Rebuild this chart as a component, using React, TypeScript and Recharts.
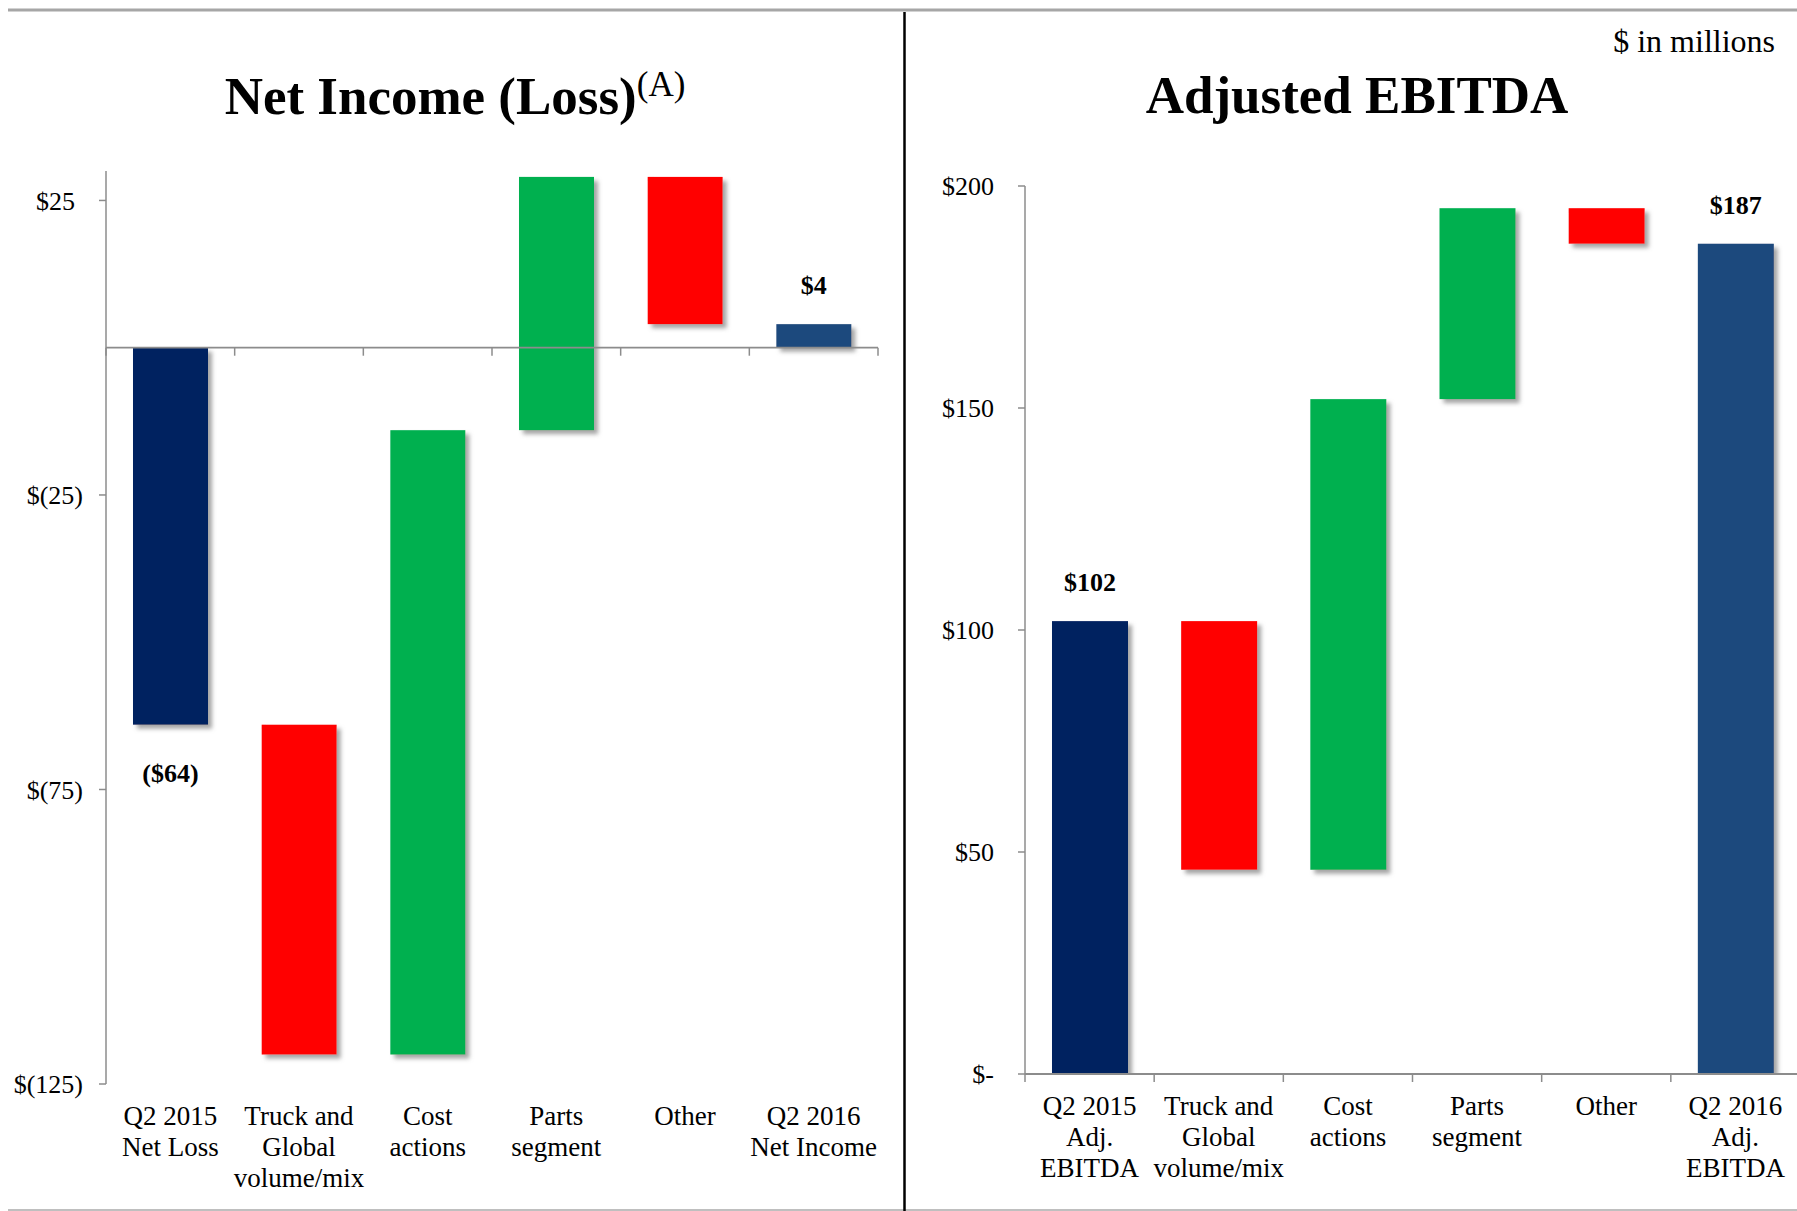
import React from 'react';
import { BarChart, Bar, XAxis, YAxis, ReferenceLine, LabelList, Cell } from 'recharts';

// ---------- data ----------
const netCategories = ['Q2 2015\nNet Loss', 'Truck and\nGlobal\nvolume/mix', 'Cost\nactions', 'Parts\nsegment', 'Other', 'Q2 2016\nNet Income'];
const netSteps = [-64, -56, 106, 43, -25, 4];
const netIsTotal = [true, false, false, false, false, true];
const netTicks = [25, -25, -75, -125];
const netDomain = [-125, 30];

const ebitdaCategories = ['Q2 2015\nAdj.\nEBITDA', 'Truck and\nGlobal\nvolume/mix', 'Cost\nactions', 'Parts\nsegment', 'Other', 'Q2 2016\nAdj.\nEBITDA'];
const ebitdaSteps = [102, -56, 106, 43, -8, 187];
const ebitdaIsTotal = [true, false, false, false, false, true];
const ebitdaTicks = [0, 50, 100, 150, 200];
const ebitdaDomain = [0, 200];

// ---------- styles ----------
const FONT = '"Liberation Serif", "Times New Roman", Times, serif';
const AXIS_GREY = '#8C8C8C';
const FIRST_TOTAL = '#002060';
const LAST_TOTAL = '#1F497D';
const UP = '#00B050';
const DOWN = '#FF0000';

type Row = { name: string; range: [number, number]; labelValue: number | null; delta: number; isTotal: boolean };

function buildWaterfall(cats: string[], steps: number[], totals: boolean[]): Row[] {
  let running = 0;
  return cats.map((name, i) => {
    const v = steps[i];
    if (totals[i]) {
      running = v;
      return { name, range: [Math.min(0, v), Math.max(0, v)], labelValue: v, delta: v, isTotal: true };
    }
    const start = running;
    const end = running + v;
    running = end;
    return { name, range: [Math.min(start, end), Math.max(start, end)], labelValue: null, delta: v, isTotal: false };
  });
}

const netRows = buildWaterfall(netCategories, netSteps, netIsTotal);
const ebitdaRows = buildWaterfall(ebitdaCategories, ebitdaSteps, ebitdaIsTotal);

function colorFor(rows: Row[], i: number) {
  const r = rows[i];
  if (r.isTotal) return i === 0 ? FIRST_TOTAL : LAST_TOTAL;
  return r.delta >= 0 ? UP : DOWN;
}

const BarShape = (props: any) => {
  const { x, y, width, height, fill } = props;
  if (x == null || y == null) return null;
  const top = Math.min(y, y + height);
  const h = Math.abs(height);
  return <rect x={x} y={top} width={width} height={h} fill={fill} filter="url(#barShadow)" />;
};

const makeAxisShape = (count: number) => (props: any) => {
  const { x1, y1, x2, y2 } = props;
  const marks = [];
  for (let i = 0; i <= count; i++) {
    const mx = x1 + ((x2 - x1) * i) / count;
    marks.push(<line key={i} x1={mx} x2={mx} y1={y1} y2={y1 + 8} stroke={AXIS_GREY} strokeWidth={1.5} />);
  }
  return (
    <g>
      <line x1={x1} y1={y1} x2={x2} y2={y2} stroke={AXIS_GREY} strokeWidth={1.8} />
      {marks}
    </g>
  );
};

const fmtLabel = (v: number) => (v < 0 ? `($${-v})` : `$${v}`);

const renderValueLabel = (props: any) => {
  const { value } = props;
  if (value === null || value === undefined || value === '') return null;
  const vb = props.viewBox && props.viewBox.width != null ? props.viewBox : props;
  const { x, y, width, height } = vb;
  const top = Math.min(y, y + height);
  const bottom = Math.max(y, y + height);
  const cx = x + width / 2;
  const ty = value < 0 ? bottom + 57 : top - 30;
  return (
    <text x={cx} y={ty} textAnchor="middle" fontFamily={FONT} fontSize={26} fontWeight="bold" fill="#000">
      {fmtLabel(value)}
    </text>
  );
};

const CategoryTick = (props: any) => {
  const { x, y, payload } = props;
  const lines = String(payload.value).split('\n');
  return (
    <text x={x} y={y} textAnchor="middle" fontFamily={FONT} fontSize={27} fill="#000">
      {lines.map((l, i) => (
        <tspan key={i} x={x} dy={i === 0 ? 41 : 31}>
          {l}
        </tspan>
      ))}
    </text>
  );
};

const NetYTick = (props: any) => {
  const { x, y, payload } = props;
  const v = payload.value;
  const txt = v < 0 ? `$(${-v})` : `$${v}`;
  return (
    <text x={v < 0 ? x : x - 8} y={y} dy="0.35em" textAnchor="end" fontFamily={FONT} fontSize={26} fill="#000">
      {txt}
    </text>
  );
};

const EbitdaYTick = (props: any) => {
  const { x, y, payload } = props;
  const v = payload.value;
  const txt = v === 0 ? '$-' : `$${v}`;
  return (
    <text x={x} y={y} dy="0.35em" textAnchor="end" fontFamily={FONT} fontSize={26} fill="#000">
      {txt}
    </text>
  );
};

export default function App() {
  return (
    <div
      style={{
        position: 'absolute',
        left: 0,
        top: 0,
        width: 1797,
        height: 1211,
        overflow: 'hidden',
        background: '#fff',
        fontFamily: FONT,
      }}
    >
      <svg width={1797} height={1211} style={{ position: 'absolute', left: 0, top: 0 }}>
        <defs>
          <filter id="barShadow" x="-50%" y="-50%" width="200%" height="200%">
            <feDropShadow dx="4" dy="4" stdDeviation="2" floodColor="#7f7f7f" floodOpacity="0.7" />
          </filter>
        </defs>
        <line x1={8} y1={10} x2={1797} y2={10} stroke="#A6A6A6" strokeWidth={3} />
        <line x1={8} y1={1210} x2={1797} y2={1210} stroke="#BFBFBF" strokeWidth={2} />
        <line x1={904.5} y1={12} x2={904.5} y2={1211} stroke="#000" strokeWidth={2.5} />
        <text x={455} y={114} textAnchor="middle" fontFamily={FONT} fontSize={53} fontWeight="bold" fill="#000">
          Net Income (Loss)
          <tspan fontSize={35} fontWeight="normal" dy={-18}>
            (A)
          </tspan>
        </text>
        <text x={1357} y={113} textAnchor="middle" fontFamily={FONT} fontSize={53} fontWeight="bold" fill="#000">
          Adjusted EBITDA
        </text>
        <text x={1775} y={52} textAnchor="end" fontFamily={FONT} fontSize={32} fill="#000">
          $ in millions
        </text>
      </svg>

      <div style={{ position: 'absolute', left: 0, top: 0 }}>
        <BarChart width={900} height={1211} data={netRows} margin={{ top: 171, right: 22, bottom: 17, left: 0 }}>
          <XAxis
            dataKey="name"
            interval={0}
            axisLine={false}
            tickLine={false}
            tickSize={0}
            tickMargin={0}
            height={110}
            tick={(p: any) => <CategoryTick {...p} />}
          />
          <YAxis
            type="number"
            domain={netDomain}
            ticks={netTicks}
            allowDataOverflow
            interval={0}
            width={106}
            tickSize={7}
            tickMargin={16}
            axisLine={{ stroke: AXIS_GREY, strokeWidth: 1.5 }}
            tickLine={{ stroke: AXIS_GREY, strokeWidth: 1.5 }}
            tick={(p: any) => <NetYTick {...p} />}
          />
          <Bar dataKey="range" barSize={75} isAnimationActive={false} shape={(p: any) => <BarShape {...p} />}>
            {netRows.map((_, i) => (
              <Cell key={i} fill={colorFor(netRows, i)} />
            ))}
            <LabelList dataKey="labelValue" content={renderValueLabel} />
          </Bar>
          <ReferenceLine y={0} shape={makeAxisShape(netCategories.length)} />
        </BarChart>
      </div>

      <div style={{ position: 'absolute', left: 900, top: 0 }}>
        <BarChart width={900} height={1211} data={ebitdaRows} margin={{ top: 186, right: 0, bottom: 17, left: 0 }}>
          <XAxis
            dataKey="name"
            interval={0}
            axisLine={false}
            tickLine={false}
            tickSize={0}
            tickMargin={0}
            height={120}
            tick={(p: any) => <CategoryTick {...p} />}
          />
          <YAxis
            type="number"
            domain={ebitdaDomain}
            ticks={ebitdaTicks}
            allowDataOverflow
            interval={0}
            width={125}
            tickSize={7}
            tickMargin={24}
            axisLine={{ stroke: AXIS_GREY, strokeWidth: 1.5 }}
            tickLine={{ stroke: AXIS_GREY, strokeWidth: 1.5 }}
            tick={(p: any) => <EbitdaYTick {...p} />}
          />
          <Bar dataKey="range" barSize={76} isAnimationActive={false} shape={(p: any) => <BarShape {...p} />}>
            {ebitdaRows.map((_, i) => (
              <Cell key={i} fill={colorFor(ebitdaRows, i)} />
            ))}
            <LabelList dataKey="labelValue" content={renderValueLabel} />
          </Bar>
          <ReferenceLine y={0} shape={makeAxisShape(ebitdaCategories.length)} />
        </BarChart>
      </div>
    </div>
  );
}
